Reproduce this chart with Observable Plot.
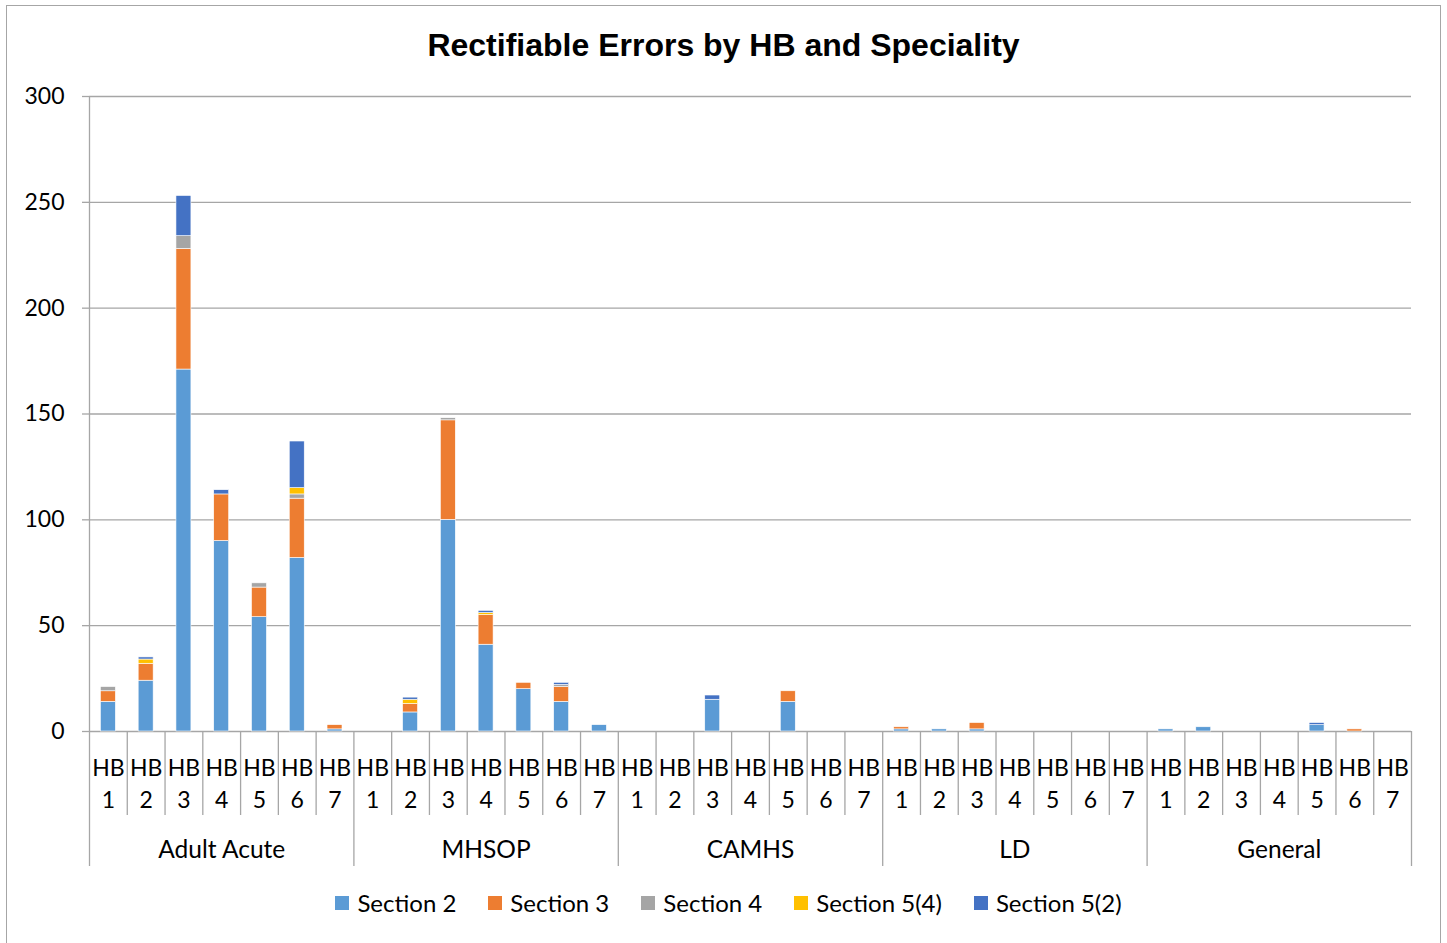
<!DOCTYPE html>
<html>
<head>
<meta charset="utf-8">
<script src="https://cdn.jsdelivr.net/npm/d3@7"></script>
<script src="https://cdn.jsdelivr.net/npm/@observablehq/plot@0.6"></script>
<style>
  html, body { margin: 0; padding: 0; background: #fff; }
  #wrap { position: relative; width: 1447px; height: 943px; overflow: hidden; font-family: Lato, "Open Sans", sans-serif; }
  #border { position: absolute; left: 6px; top: 5px; width: 1435px; height: 945px; border: 1.5px solid #a6a6a6; box-sizing: border-box; }
  #title { position: absolute; left: 0; top: 27px; width: 1447px; text-align: center; font: bold 32px "Liberation Sans", Arial, sans-serif; line-height: 36px; color: #000; }
  #chart { position: absolute; left: 0; top: 60px; }
  #legend { position: absolute; left: 0; top: 888px; width: 1447px; display: flex; justify-content: center; gap: 32px; font-size: 24px; color: #000; padding-left: 10px; box-sizing: border-box; }
  #legend .item { display: flex; align-items: center; gap: 8px; }
  #legend .sw { width: 14px; height: 14px; display: inline-block; }
</style>
</head>
<body>
<div id="wrap">
  <div id="border"></div>
  <div id="title">Rectifiable Errors by HB and Speciality</div>
  <div id="chart"></div>
  <div id="legend"></div>
</div>
<script>
// ---- Data ----
const groups = ["Adult Acute", "MHSOP", "CAMHS", "LD", "General"];
const hbNumbers = ["1", "2", "3", "4", "5", "6", "7"];
const seriesNames = ["Section 2", "Section 3", "Section 4", "Section 5(4)", "Section 5(2)"];
const yTicks = [0, 50, 100, 150, 200, 250, 300];

// values per series, ordered Adult Acute HB1..HB7, MHSOP HB1..HB7, CAMHS, LD, General
const section2 = [
  14, 24, 171, 90, 54, 82, 1,
  0, 9, 100, 41, 20, 14, 3,
  0, 0, 15, 0, 14, 0, 0,
  1, 1, 1, 0, 0, 0, 0,
  1, 2, 0, 0, 3, 0, 0
];
const section3 = [
  5, 8, 57, 22, 14, 28, 2,
  0, 4, 47, 14, 3, 7, 0,
  0, 0, 0, 0, 5, 0, 0,
  1, 0, 3, 0, 0, 0, 0,
  0, 0, 0, 0, 0, 1, 0
];
const section4 = [
  2, 0, 6, 0, 2, 2, 0,
  0, 0, 1, 0, 0, 1, 0,
  0, 0, 0, 0, 0, 0, 0,
  0, 0, 0, 0, 0, 0, 0,
  0, 0, 0, 0, 0, 0, 0
];
const section54 = [
  0, 2, 0, 0, 0, 3, 0,
  0, 2, 0, 1, 0, 0, 0,
  0, 0, 0, 0, 0, 0, 0,
  0, 0, 0, 0, 0, 0, 0,
  0, 0, 0, 0, 0, 0, 0
];
const section52 = [
  0, 1, 19, 2, 0, 22, 0,
  0, 1, 0, 1, 0, 1, 0,
  0, 0, 2, 0, 0, 0, 0,
  0, 0, 0, 0, 0, 0, 0,
  0, 0, 0, 0, 1, 0, 0
];

// ---- Styles ----
const colors = ["#5B9BD5", "#ED7D31", "#A5A5A5", "#FFC000", "#4472C4"];
const gridColor = "#a6a6a6";

// ---- Build table ----
const seriesValues = [section2, section3, section4, section54, section52];
const categories = [];
groups.forEach((g, gi) => hbNumbers.forEach((n, hi) => categories.push({group: g, hb: n, pos: gi * hbNumbers.length + hi})));
const rows = [];
seriesNames.forEach((s, si) => {
  categories.forEach((c, ci) => {
    const v = seriesValues[si][ci];
    if (v > 0) rows.push({series: s, group: c.group, hb: c.hb, pos: c.pos, value: v});
  });
});
const nCat = categories.length;
const groupEdges = d3.range(0, nCat + 1, hbNumbers.length);
const innerEdges = d3.range(0, nCat + 1).filter(i => i % hbNumbers.length !== 0);

const chart = Plot.plot({
  width: 1447,
  height: 820,
  marginLeft: 89,
  marginRight: 36,
  marginTop: 36,
  marginBottom: 149,
  style: {fontFamily: "Lato, 'Open Sans', sans-serif", fontSize: "22px", color: "#000", background: "transparent"},
  x: {type: "linear", domain: [0, nCat]},
  y: {domain: [0, 300]},
  color: {domain: seriesNames, range: colors},
  marks: [
    Plot.ruleY(yTicks, {stroke: gridColor, strokeWidth: 1.3}),
    Plot.ruleX([0], {stroke: gridColor, strokeWidth: 1.3}),
    Plot.axisY({ticks: yTicks, tickSize: 7, tickPadding: 18, stroke: gridColor, strokeWidth: 1.3, fill: "#000", fontSize: 23, label: null}),
    Plot.axisX({ticks: innerEdges, tickSize: 84, tickFormat: () => "", stroke: gridColor, strokeWidth: 1.3, label: null}),
    Plot.axisX({ticks: groupEdges, tickSize: 135, tickFormat: () => "", stroke: gridColor, strokeWidth: 1.3, label: null}),
    Plot.rectY(rows, {
      x1: "pos", x2: d => d.pos + 1, y: "value", fill: "series",
      insetLeft: 11.4, insetRight: 11.4, stroke: "#fff", strokeWidth: 0.6
    }),
    Plot.text(categories, {
      x: d => d.pos + 0.5, text: d => "HB\n" + d.hb,
      frameAnchor: "bottom", lineAnchor: "top", dy: 21, lineHeight: 1.42, fontSize: 23, fill: "#000"
    }),
    Plot.text(groups, {
      x: (d, i) => i * hbNumbers.length + hbNumbers.length / 2, text: d => d,
      frameAnchor: "bottom", lineAnchor: "top", dy: 109, fontSize: 24.5, fill: "#000"
    })
  ]
});
document.getElementById("chart").appendChild(chart);

// ---- Legend ----
const legend = document.getElementById("legend");
seriesNames.forEach((s, i) => {
  const item = document.createElement("div");
  item.className = "item";
  const sw = document.createElement("span");
  sw.className = "sw";
  sw.style.background = colors[i];
  const lab = document.createElement("span");
  lab.textContent = s;
  item.appendChild(sw);
  item.appendChild(lab);
  legend.appendChild(item);
});
</script>
</body>
</html>
